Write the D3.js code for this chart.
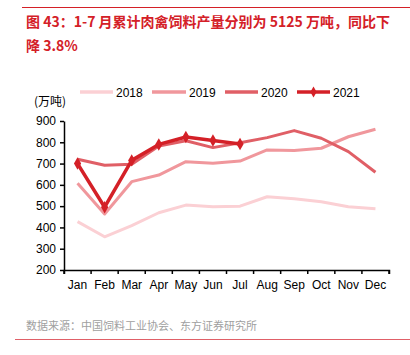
<!DOCTYPE html>
<html><head><meta charset="utf-8">
<script src="https://cdn.jsdelivr.net/npm/d3@7"></script>
<style>body{margin:0;background:#fff}svg{display:block}</style>
</head><body>
<script>
const months = ["Jan","Feb","Mar","Apr","May","Jun","Jul","Aug","Sep","Oct","Nov","Dec"];
const y2018 = [427,356,408,469,505,497,500,544,535,521,497,488];
const y2019 = [607,463,615,646,709,701,712,764,761,772,826,861];
const y2020 = [720,692,697,783,807,775,798,822,855,819,756,659];
const y2021 = [700,495,715,790,825,808,792];
const yTicks = [200,300,400,500,600,700,800,900];
const seriesNames = ["2018","2019","2020","2021"];
const seriesColors = ["#fbd0d4","#f0979c","#e05f66","#d42027"];

const W=410,H=355;
const svg=d3.select("body").append("svg").attr("width",W).attr("height",H);
const font="Arial, 'Liberation Sans', 'Noto Sans CJK SC', sans-serif";

svg.append("line").attr("x1",22).attr("x2",410).attr("y1",7.5).attr("y2",7.5).attr("stroke","#d42027").attr("stroke-width",1);
svg.append("line").attr("x1",15).attr("x2",410).attr("y1",339.5).attr("y2",339.5).attr("stroke","#e06068").attr("stroke-width",1);

const title=svg.append("text").attr("font-family","'Noto Sans CJK SC', sans-serif").attr("font-size",14).attr("font-weight","bold").attr("fill","#d42027");
title.append("tspan").attr("x",26).attr("y",27).text("图 43：1-7 月累计肉禽饲料产量分别为 5125 万吨，同比下");
title.append("tspan").attr("x",26).attr("y",51).text("降 3.8%");

const x=d3.scaleBand().domain(months).range([64,389]);
const y=d3.scaleLinear().domain([200,900]).range([270,121]);

const gx=svg.append("g").attr("transform","translate(0,270)")
  .call(d3.axisBottom(x).tickSize(4).tickSizeOuter(4).tickPadding(6));
gx.selectAll(".tick line").attr("transform",`translate(${-x.bandwidth()/2},0)`);
gx.append("line").attr("x1",389).attr("x2",389).attr("y1",0).attr("y2",4).attr("stroke","#000");
const gy=svg.append("g").attr("transform","translate(64,0)")
  .call(d3.axisLeft(y).tickValues(yTicks).tickSize(4).tickSizeOuter(0).tickPadding(4));
[gx,gy].forEach(g=>{g.selectAll("path,line").attr("stroke","#000").attr("stroke-width",1.5);
  g.selectAll("text").attr("font-family",font).attr("font-size",12).attr("fill","#000");});

svg.append("text").attr("x",34).attr("y",106).attr("font-family","'Noto Sans CJK SC', sans-serif").attr("font-size",12).text("(万吨)");

const line=d3.line().x((d,i)=>x(months[i])+x.bandwidth()/2).y(d=>y(d));
[y2018,y2019,y2020,y2021].forEach((data,k)=>{
  svg.append("path").datum(data).attr("d",line).attr("fill","none")
    .attr("stroke",seriesColors[k]).attr("stroke-width",k==3?3.5:3).attr("stroke-linejoin","round");
});
const sym=d3.symbol().type(d3.symbolDiamond).size(45);
svg.selectAll(".m").data(y2021).enter().append("path")
  .attr("transform",(d,i)=>`translate(${x(months[i])+x.bandwidth()/2},${y(d)})`)
  .attr("d",sym).attr("fill","#d42027");

const legX=[[80,113],[152,186],[225,258],[297,330]];
seriesNames.forEach((n,k)=>{
  svg.append("line").attr("x1",legX[k][0]).attr("x2",legX[k][1]).attr("y1",92).attr("y2",92)
    .attr("stroke",seriesColors[k]).attr("stroke-width",3.5);
  if(k==3) svg.append("path").attr("transform",`translate(${(legX[k][0]+legX[k][1])/2},92)`).attr("d",d3.symbol().type(d3.symbolDiamond).size(35)).attr("fill","#d42027");
  svg.append("text").attr("x",legX[k][1]+3).attr("y",96.5).attr("font-family",font).attr("font-size",12).text(n);
});

svg.append("text").attr("x",26).attr("y",330).attr("font-family","'Noto Sans CJK SC', sans-serif").attr("font-size",11).attr("fill","#a0a0a0").text("数据来源：中国饲料工业协会、东方证券研究所");
</script>
</body></html>
